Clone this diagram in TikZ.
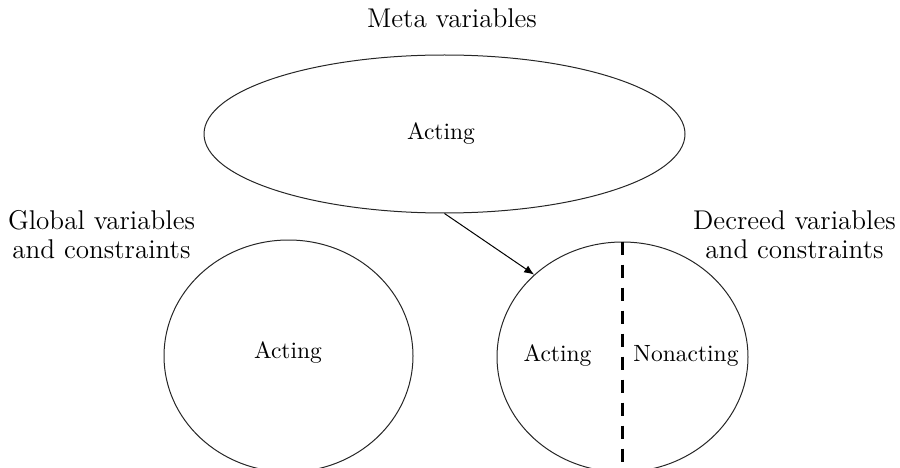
\documentclass[tikz,border=0pt]{standalone}
\usetikzlibrary{shapes.geometric,arrows.meta}
\begin{document}
\begin{tikzpicture}[x=1pt,y=-1pt,
  region/.style={draw=black!85, ellipse, line width=1pt, inner sep=0pt},
  innertext/.style={font=\fontsize{10}{12}\selectfont, anchor=base, inner sep=0pt, scale=2.35, transform shape},
  labeltext/.style={font=\fontsize{12}{12.4}\selectfont, align=center, anchor=base, inner sep=0pt, scale=2.26, transform shape},
  link/.style={line width=1pt, -{Latex[length=10pt,width=8pt]}},
  divider/.style={line width=3.2pt, dash pattern=on 13pt off 10pt}]
\path[use as bounding box, clip] (0,0) rectangle (900,468);
% regions
\node[region, minimum width=481pt, minimum height=158pt] (meta) at (444.5,134) {};
\node[region, minimum width=249pt, minimum height=232pt] (glob) at (288.5,356) {};
\node[region, minimum width=251pt, minimum height=230pt] (dec) at (622.5,357) {};
% inner texts
\node[innertext] (tact) at (441,140) {Acting};
\node[innertext] (gact) at (288,358) {Acting};
\node[innertext] (dact) at (557.5,361) {Acting};
\node[innertext] (dnon) at (686,361) {Nonacting};
% labels
\node[labeltext] (metalabel) at (452,28) {Meta variables};
\node[labeltext] (globlabel) at (101.5,258) {Global variables\\and constraints};
\node[labeltext] (declabel) at (794.5,258) {Decreed variables\\and constraints};
% connectors
\draw[link] (meta.south) -- (dec.137);
\draw[divider] (dec.north) -- (dec.south);
\end{tikzpicture}
\end{document}
